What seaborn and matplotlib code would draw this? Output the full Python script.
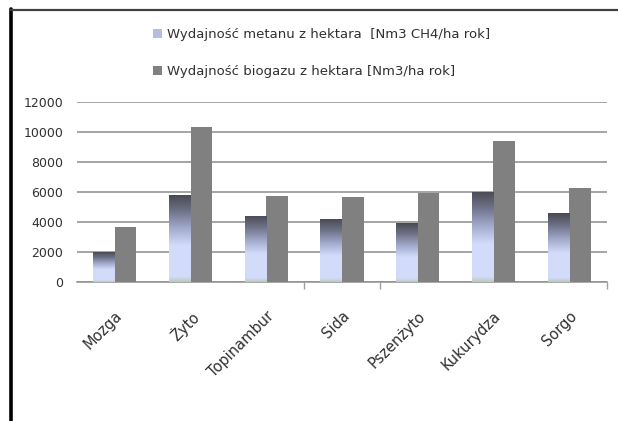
import numpy as np
import pandas as pd
import seaborn as sns
import matplotlib
matplotlib.use('Agg')
import matplotlib.pyplot as plt
from matplotlib.colors import LinearSegmentedColormap
from matplotlib.patches import Patch
from matplotlib.lines import Line2D

# data
crops = ['Mozga', 'Żyto', 'Topinambur', 'Sida', 'Pszenżyto', 'Kukurydza', 'Sorgo']
methane = [1980, 5790, 4420, 4180, 3910, 6020, 4580]
biogas = [3650, 10310, 5750, 5650, 5950, 9380, 6290]
series = ['Wydajność metanu z hektara  [Nm3 CH4/ha rok]',
          'Wydajność biogazu z hektara [Nm3/ha rok]']
yticks = [0, 2000, 4000, 6000, 8000, 10000, 12000]

df = pd.DataFrame({'crop': crops * 2,
                   'value': methane + biogas,
                   'series': [series[0]] * len(crops) + [series[1]] * len(crops)})

sns.set_style('white')
plt.rcParams['font.family'] = ['DejaVu Sans']

fig = plt.figure(figsize=(6.18, 4.21), dpi=100)
ax = fig.add_axes([77 / 618, 1 - 282 / 421, 530 / 618, 180 / 421])

sns.barplot(data=df, x='crop', y='value', hue='series', order=crops,
            hue_order=series, palette=['#c8d2f0', '#808080'], width=0.57,
            saturation=1, linewidth=0, ax=ax, legend=False, zorder=3)

# gradient fill on methane bars (dark top, light blue bottom)
grad = LinearSegmentedColormap.from_list('g', [
    (0.0, '#bccab8'), (0.06, '#d2dcfa'), (0.42, '#d2dcfa'),
    (0.62, '#a2aacb'), (0.82, '#6e7288'), (1.0, '#4a4a52')])
col = np.linspace(0, 1, 256).reshape(-1, 1)
for p in ax.containers[0].patches:
    x0, y0 = p.get_x(), p.get_y()
    w, h = p.get_width(), p.get_height()
    p.set_facecolor('none')
    im = ax.imshow(col, cmap=grad, origin='lower', aspect='auto',
                   extent=[x0, x0 + w, y0, y0 + h], zorder=3)
    im.set_clip_path(p)

ax.set_xlim(-0.5, len(crops) - 0.5)
ax.set_ylim(0, 12000)
ax.set_yticks(yticks)
ax.set_yticklabels([str(v) for v in yticks], fontsize=9, color='#303030')
ax.yaxis.grid(True, color='#8c8c8c', linewidth=1.1, zorder=0)
ax.set_axisbelow(True)
ax.set_xlabel('')
ax.set_ylabel('')
ax.set_xticks(range(len(crops)))
ax.set_xticklabels(crops, rotation=45, ha='right', rotation_mode='anchor',
                   fontsize=10.5, color='#303030')
ax.set_xticks([2.5, 3.5, 6.5], minor=True)
ax.tick_params(axis='x', which='major', length=0, pad=19)
ax.tick_params(axis='x', which='minor', bottom=True, length=5, color='#a0a0a0', width=1)
ax.tick_params(axis='y', length=0, pad=10)
for s in ['top', 'right', 'left']:
    ax.spines[s].set_visible(False)
ax.spines['bottom'].set_color('#909090')
ax.spines['bottom'].set_linewidth(1.1)

handles = [Patch(facecolor='#b4bede', edgecolor='none'),
           Patch(facecolor='#808080', edgecolor='none')]
fig.legend(handles, series, loc='upper left', bbox_to_anchor=(141 / 618, 1 - 16 / 421),
           frameon=False, fontsize=9.5, labelspacing=1.85, handlelength=0.7,
           handleheight=0.7, handletextpad=0.35, labelcolor='#303030')

# chart frame: thick left edge, thin top edge
fig.add_artist(Line2D([11 / 618, 11 / 618], [0, 1 - 9 / 421], color='black',
                      linewidth=2.6, transform=fig.transFigure))
fig.add_artist(Line2D([10 / 618, 1], [1 - 10 / 421, 1 - 10 / 421], color='#404040',
                      linewidth=1.6, transform=fig.transFigure))

fig.savefig('out.png', dpi=100)
